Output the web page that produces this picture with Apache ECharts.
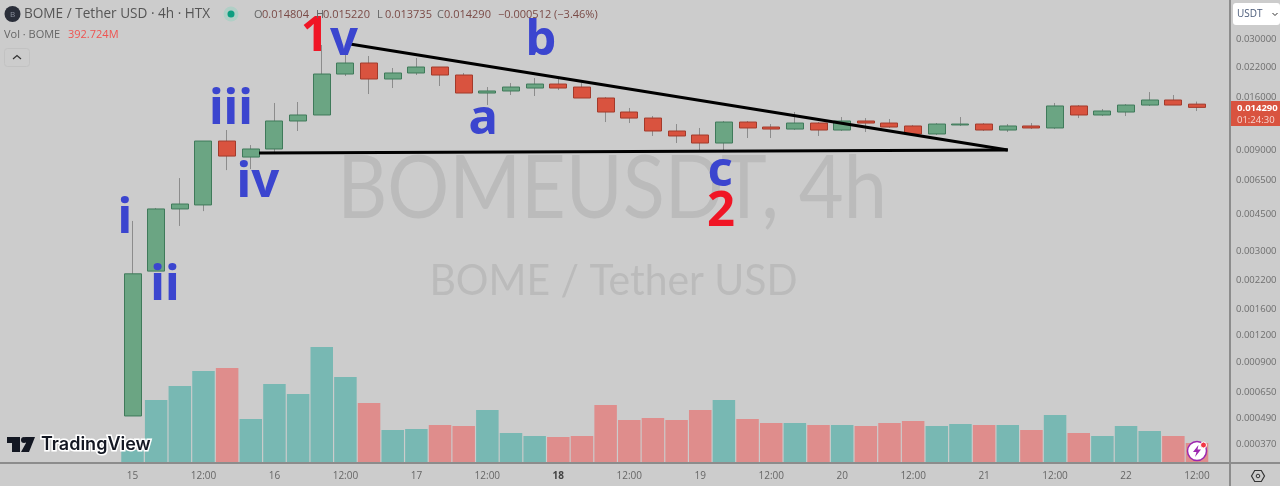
<!DOCTYPE html>
<html>
<head>
<meta charset="utf-8">
<title>BOME / Tether USD</title>
<style>
html, body { margin: 0; padding: 0; background: #cccccc; }
#main { width: 1280px; height: 486px; }
</style>
<script src="https://cdn.jsdelivr.net/npm/echarts@6/dist/echarts.min.js"></script>
</head>
<body>
<div id="main"></div>
<script>
// candles
const opens = [0.000503, 0.00242, 0.00475, 0.00496, 0.00992, 0.00834, 0.0091, 0.01233, 0.01316, 0.02052, 0.02312, 0.01944, 0.02075, 0.02214, 0.0203, 0.0167, 0.01707, 0.01763, 0.01841, 0.01782, 0.01582, 0.01359, 0.01273, 0.01106, 0.01059, 0.00971, 0.01219, 0.01155, 0.0113, 0.01206, 0.01118, 0.01233, 0.01206, 0.01168, 0.01071, 0.01181, 0.01193, 0.01118, 0.01168, 0.01143, 0.01451, 0.01316, 0.01359, 0.01466, 0.01548, 0.014804];
const closes = [0.00235, 0.00475, 0.00501, 0.00992, 0.00843, 0.0091, 0.01233, 0.01316, 0.02052, 0.02312, 0.01944, 0.02075, 0.02214, 0.0203, 0.0167, 0.01707, 0.01782, 0.01841, 0.01763, 0.01582, 0.01359, 0.01273, 0.01106, 0.01048, 0.00971, 0.01219, 0.01143, 0.0113, 0.01206, 0.01118, 0.01233, 0.01206, 0.01155, 0.01071, 0.01193, 0.01193, 0.01118, 0.01168, 0.01143, 0.01451, 0.01316, 0.01374, 0.01466, 0.01548, 0.01466, 0.01429];
const lows = [0.000503, 0.00242, 0.00395, 0.00464, 0.00724, 0.00732, 0.00871, 0.01106, 0.01316, 0.02008, 0.01652, 0.01763, 0.0203, 0.01802, 0.0167, 0.01466, 0.01634, 0.01617, 0.01725, 0.01582, 0.01219, 0.01206, 0.01048, 0.00971, 0.00881, 0.00881, 0.01025, 0.01025, 0.01118, 0.01048, 0.01106, 0.01094, 0.01143, 0.01059, 0.01059, 0.01168, 0.01106, 0.01094, 0.0113, 0.0113, 0.01273, 0.01301, 0.01301, 0.01451, 0.01466, 0.013735];
const highs = [0.00417, 0.0048, 0.00664, 0.00992, 0.01118, 0.0095, 0.01499, 0.01515, 0.02811, 0.02577, 0.02495, 0.0219, 0.02441, 0.02214, 0.02075, 0.01782, 0.01861, 0.01965, 0.01965, 0.01861, 0.01599, 0.0142, 0.01301, 0.01193, 0.01143, 0.01233, 0.01233, 0.01193, 0.01359, 0.01219, 0.01287, 0.01273, 0.0126, 0.01181, 0.01206, 0.01287, 0.01206, 0.01193, 0.01206, 0.01499, 0.01466, 0.01404, 0.01482, 0.01688, 0.01634, 0.01522];
// volume in millions of BOME
const volumes = [255, 1237, 1512, 1807, 1866, 864, 1552, 1355, 2278, 1689, 1178, 648, 668, 746, 727, 1041, 589, 530, 511, 530, 1139, 845, 884, 845, 1041, 1237, 864, 786, 786, 746, 746, 727, 786, 825, 727, 766, 746, 746, 648, 943, 589, 530, 727, 628, 530, 393];
// time axis
const timeLabels = ['15', '', '', '12:00', '', '', '16', '', '', '12:00', '', '', '17', '', '', '12:00', '', '', '18', '', '', '12:00', '', '', '19', '', '', '12:00', '', '', '20', '', '', '12:00', '', '', '21', '', '', '12:00', '', '', '22', '', '', '12:00'];
const priceTicks = [0.03, 0.022, 0.016, 0.012, 0.009, 0.0065, 0.0045, 0.003, 0.0022, 0.0016, 0.0012, 0.0009, 0.00065, 0.00049, 0.00037];
// hand drawn wave counts and trend lines, [candle index, price]
const blueLabels = ['i', 'ii', 'iii', 'iv', 'v', 'a', 'b', 'c'];
const bluePoints = [[-0.32, 0.00425], [1.37, 0.00205], [4.16, 0.0139], [5.3, 0.00632], [8.94, 0.02935], [14.82, 0.01246], [17.27, 0.02935], [24.84, 0.00709]];
const redLabels = ['1', '2'];
const redPoints = [[7.7, 0.0306], [24.88, 0.00457]];
const upperLine = [[9.19, 0.02842], [37, 0.009]];
const lowerLine = [[5.35, 0.00871], [37, 0.009]];

const UP = '#6ba583', UP_BORDER = '#3f7a5a', DOWN = '#d9533f', DOWN_BORDER = '#a33a2b';
const LEAD_SLOTS = 5, TAIL_SLOTS = 1;
const slots = LEAD_SLOTS + opens.length + TAIL_SLOTS;

const categories = [];
for (let i = 0; i < slots; i++) {
    categories.push(timeLabels[i - LEAD_SLOTS] || '');
}
const wickRows = opens.map((o, i) => [i + LEAD_SLOTS, o, closes[i], lows[i], highs[i]]);
const bodyRows = opens.map((o, i) => [i + LEAD_SLOTS, o, closes[i], Math.min(o, closes[i]), Math.max(o, closes[i])]);
const volumeRows = volumes.map((v, i) => ({
    value: [i + LEAD_SLOTS, v],
    itemStyle: { color: closes[i] >= opens[i] ? '#78b8b3' : '#df8d8c' }
}));

const chart = echarts.init(document.getElementById('main'));

function text(str, x, y, font, fill, extra) {
    return {
        type: 'text', z: 100,
        style: Object.assign({ text: str, x: x, y: y, font: font, fill: fill, verticalAlign: 'middle' }, extra || {})
    };
}
// big grey symbol text behind the candles, squeezed to the width of the original
function watermark(str, x, y, font, squeeze) {
    return {
        type: 'text', z: 0, x: x, y: y, scaleX: squeeze,
        style: { text: str, x: 0, y: 0, font: font, fill: '#bbbbbb', align: 'center', verticalAlign: 'middle' }
    };
}
function poly(points, fill) {
    return { type: 'polygon', z: 100, shape: { points: points }, style: { fill: fill } };
}
function waveSeries(labels, points, color) {
    return {
        type: 'scatter', xAxisIndex: 1, yAxisIndex: 0, z: 20, symbolSize: 1,
        itemStyle: { color: 'transparent', opacity: 1 },
        data: points,
        label: {
            show: true, position: 'inside', color: color, opacity: 1,
            fontFamily: 'Noto Sans', fontWeight: 'bold', fontSize: 49,
            formatter: p => labels[p.dataIndex]
        }
    };
}
function trendSeries(points) {
    return {
        type: 'line', xAxisIndex: 1, yAxisIndex: 0, z: 15, symbol: 'none', silent: true,
        lineStyle: { color: '#000000', width: 3 }, data: points
    };
}

const SMALL = '11px "Open Sans"';
const OHLC_COLOR = '#7a4a46';

chart.setOption({
    animation: false,
    backgroundColor: '#cccccc',
    grid: { left: 2.4, width: 1230.1, top: 0, height: 463 },
    xAxis: [
        {
            type: 'category', data: categories,
            axisLine: { show: false }, axisTick: { show: false }, splitLine: { show: false },
            axisLabel: {
                interval: (i, v) => v !== '', margin: 8, color: '#666666',
                fontFamily: 'Open Sans', fontSize: 10,
                formatter: v => v === '18' ? '{b|18}' : v,
                rich: { b: { fontWeight: 'bold', fontFamily: 'Open Sans', fontSize: 10, color: '#444444' } }
            }
        },
        { type: 'value', show: false, min: -LEAD_SLOTS - 0.5, max: opens.length - 0.5 + TAIL_SLOTS }
    ],
    yAxis: [
        {
            type: 'log', position: 'right', min: 0.000302, max: 0.0458, offset: -2.5,
            axisLine: { show: false }, axisTick: { show: false }, splitLine: { show: false },
            axisLabel: {
                customValues: priceTicks, margin: 6, color: '#6e6e6e',
                fontFamily: 'Open Sans', fontSize: 9.5,
                formatter: v => v.toFixed(6)
            }
        },
        { type: 'value', show: false, min: 0, max: 9093 }
    ],
    series: [
        { type: 'bar', xAxisIndex: 0, yAxisIndex: 1, z: 1, barWidth: 22.5, data: volumeRows },
        {
            type: 'candlestick', xAxisIndex: 0, yAxisIndex: 0, z: 5, barWidth: 0.1,
            encode: { x: 0, y: [1, 2, 3, 4] },
            itemStyle: { color: '#8c8c8c', color0: '#8c8c8c', borderColor: '#8c8c8c', borderColor0: '#8c8c8c', borderWidth: 1 },
            data: wickRows
        },
        {
            type: 'candlestick', xAxisIndex: 0, yAxisIndex: 0, z: 6, barWidth: 17.5,
            encode: { x: 0, y: [1, 2, 3, 4] },
            itemStyle: { color: UP, color0: DOWN, borderColor: UP_BORDER, borderColor0: DOWN_BORDER, borderWidth: 1 },
            data: bodyRows
        },
        trendSeries(upperLine),
        trendSeries(lowerLine),
        waveSeries(blueLabels, bluePoints, '#3b45cf'),
        waveSeries(redLabels, redPoints, '#f01525')
    ],
    graphic: [
        // watermark
        watermark('BOMEUSDT, 4h', 612, 190, '88px "Lato"', 0.88),
        watermark('BOME / Tether USD', 613.5, 281, '43px "Lato"', 0.95),
        // pane borders
        { type: 'line', z: 50, shape: { x1: 0, y1: 463, x2: 1280, y2: 463 }, style: { stroke: '#8c8c8c', lineWidth: 2 } },
        { type: 'line', z: 50, shape: { x1: 1230, y1: 0, x2: 1230, y2: 486 }, style: { stroke: '#8c8c8c', lineWidth: 2 } },
        // legend
        { type: 'circle', z: 100, shape: { cx: 12.5, cy: 14, r: 8 }, style: { fill: '#2a2e39' } },
        text('B', 12.5, 14.5, '8px "Open Sans"', '#8a8f9c', { align: 'center' }),
        text('BOME / Tether USD · 4h · HTX', 24, 14.5, '13.6px "Open Sans"', '#555555'),
        { type: 'circle', z: 100, shape: { cx: 231, cy: 14, r: 7.5 }, style: { fill: '#b0cfc6' } },
        { type: 'circle', z: 100, shape: { cx: 231, cy: 14, r: 3.5 }, style: { fill: '#0d9e80' } },
        text('O', 254, 14.5, SMALL, '#666666'),
        text('0.014804', 262, 14.5, SMALL, OHLC_COLOR),
        text('H', 316, 14.5, SMALL, '#666666'),
        text('0.015220', 323, 14.5, SMALL, OHLC_COLOR),
        text('L', 377, 14.5, SMALL, '#666666'),
        text('0.013735', 385, 14.5, SMALL, OHLC_COLOR),
        text('C', 437, 14.5, SMALL, '#666666'),
        text('0.014290', 444, 14.5, SMALL, OHLC_COLOR),
        text('−0.000512 (−3.46%)', 498, 14.5, SMALL, OHLC_COLOR),
        text('Vol · BOME', 4, 35, '11px "Open Sans"', '#666666'),
        text('392.724M', 68, 35, '11px "Open Sans"', '#ef5350'),
        { type: 'rect', z: 100, shape: { x: 4.5, y: 48.5, width: 25, height: 18, r: 3 }, style: { fill: 'none', stroke: '#c2c2c2' } },
        { type: 'polyline', z: 100, shape: { points: [[13, 59], [17, 55.5], [21, 59]] }, style: { fill: 'none', stroke: '#333333', lineWidth: 1.2 } },
        // currency box and last price tag
        { type: 'rect', z: 100, shape: { x: 1233, y: 3, width: 47, height: 22, r: 3 }, style: { fill: '#ffffff' } },
        text('USDT', 1237, 14.5, '10px "Open Sans"', '#4a5a78'),
        { type: 'polyline', z: 100, shape: { points: [[1272.5, 13], [1275, 15.5], [1277.5, 13]] }, style: { fill: 'none', stroke: '#333333', lineWidth: 1 } },
        { type: 'rect', z: 100, shape: { x: 1231, y: 101, width: 49, height: 25 }, style: { fill: '#d9533f' } },
        text('0.014290', 1237, 108, 'bold 9.5px "Open Sans"', '#ffffff'),
        text('01:24:30', 1237, 120, '9.5px "Open Sans"', '#f6d5cf'),
        // settings button
        { type: 'polygon', z: 100, shape: { points: [[1251.5, 476], [1254.7, 470.5], [1261.3, 470.5], [1264.5, 476], [1261.3, 481.5], [1254.7, 481.5]] }, style: { fill: 'none', stroke: '#333333', lineWidth: 1.2 } },
        { type: 'circle', z: 100, shape: { cx: 1258, cy: 476, r: 1.8 }, style: { fill: 'none', stroke: '#333333', lineWidth: 1 } },
        // lightning badge
        { type: 'circle', z: 100, shape: { cx: 1197, cy: 451, r: 9.5 }, style: { fill: '#ffffff', stroke: '#9c27b0', lineWidth: 1.5 } },
        poly([[1198.5, 445], [1193, 452], [1196.5, 452], [1195, 457], [1201, 449.5], [1197.5, 449.5]], '#9c27b0'),
        { type: 'circle', z: 101, shape: { cx: 1203.5, cy: 445, r: 3 }, style: { fill: '#f23645', stroke: '#ffffff', lineWidth: 1 } },
        // logo
        poly([[7, 437], [20, 437], [20, 452], [12, 452], [12, 443], [7, 443]], '#131722'),
        { type: 'circle', z: 100, shape: { cx: 24, cy: 440, r: 3 }, style: { fill: '#131722' } },
        poly([[25, 437], [35, 437], [29, 452], [21, 452], [26, 443]], '#131722'),
        text('TradingView', 41, 445, '600 18px "Inter"', '#131722', { stroke: '#ffffff', lineWidth: 3 })
    ]
});

window.addEventListener('resize', function() {
    chart.resize();
});
</script>
</body>
</html>
